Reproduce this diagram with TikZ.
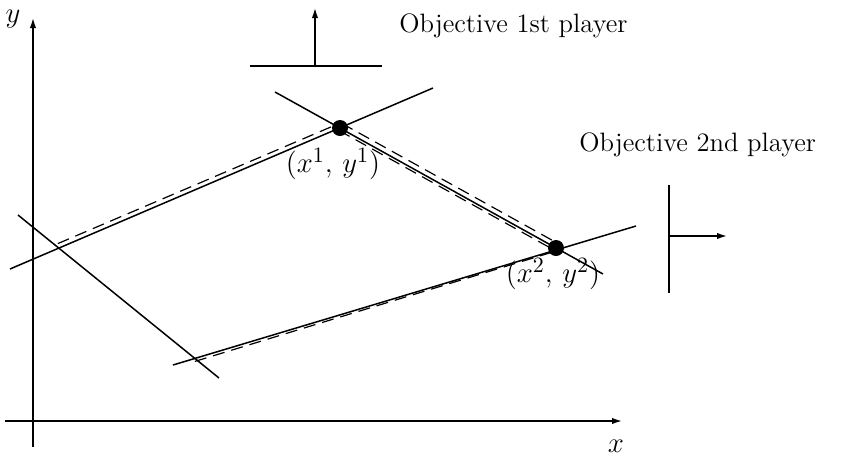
\documentclass[tikz,border=0pt]{standalone}
\usetikzlibrary{arrows.meta}
\begin{document}
\begin{tikzpicture}[x=0.5pt,y=-0.5pt,
  ln/.style={line width=0.75pt},
  dsh/.style={line width=0.6pt,dash pattern=on 6pt off 3.5pt},
  arr/.style={line width=0.75pt,-{Latex[length=5pt,width=3.2pt]}},
  dot/.style={circle,fill=black,inner sep=0pt,minimum size=8pt},
  lbl/.style={font=\fontsize{13.3}{16}\selectfont,inner sep=0pt},
  mlbl/.style={font=\fontsize{15.5}{19}\selectfont,inner sep=0pt},
  albl/.style={font=\fontsize{14.5}{17}\selectfont,inner sep=0pt}]
\useasboundingbox (0,0) rectangle (848,462);
% axes
\coordinate (ys) at (33,447); \coordinate (ye) at (33,18);
\coordinate (xs) at (5,421);  \coordinate (xe) at (622,421);
\draw[arr] (ys) -- (ye);
\draw[arr] (xs) -- (xe);
\node[albl] (ylab) at (13,19) {$y$};
\node[albl] (xlab) at (616,446) {$x$};
% points
\coordinate (P1) at (340,128);
\coordinate (P2) at (556,248);
\coordinate (QA) at (58.8,248.1);
\coordinate (QC) at (194.9,358.4);
% line A
\coordinate (A1) at (10,269); \coordinate (A2) at (433,88);
\draw[ln] (A1) -- (A2);
% line B
\coordinate (B1) at (275,92); \coordinate (B2) at (603,274);
\draw[ln] (B1) -- (B2);
% line C
\coordinate (C1) at (173,365); \coordinate (C2) at (636,226);
\draw[ln] (C1) -- (C2);
% line D
\coordinate (D1) at (18,215); \coordinate (D2) at (219,378);
\draw[ln] (D1) -- (D2);
% dashed companions
\draw[dsh] ([shift={(-1,-4.5)}]QA) -- ([shift={(-1,-4.5)}]P1);
\draw[dsh] ([shift={(2,-4.5)}]P1) -- ([shift={(2,-4.5)}]P2);
\draw[dsh] ([shift={(-1,2.5)}]P1) -- ([shift={(-1,2.5)}]P2);
\draw[dsh] ([shift={(0,3)}]QC) -- ([shift={(0,3)}]P2);
% dots
\node[dot] (d1) at (P1) {};
\node[dot] (d2) at (P2) {};
\node[mlbl] (l1) at (333,164) {$(x^1,\,y^1)$};
\node[mlbl] (l2) at (553,274) {$(x^2,\,y^2)$};
% objective 1
\coordinate (h1) at (250,66); \coordinate (h2) at (382,66);
\coordinate (o1s) at (315,66); \coordinate (o1e) at (315,8);
\draw[ln] (h1) -- (h2);
\draw[arr] (o1s) -- (o1e);
\node[lbl,anchor=west] (t1) at (399,26) {Objective 1st player};
% objective 2
\coordinate (v1) at (669,185); \coordinate (v2) at (669,293);
\coordinate (o2s) at (669,236); \coordinate (o2e) at (727,236);
\draw[ln] (v1) -- (v2);
\draw[arr] (o2s) -- (o2e);
\node[lbl,anchor=west] (t2) at (579,145) {Objective 2nd player};
\end{tikzpicture}
\end{document}
